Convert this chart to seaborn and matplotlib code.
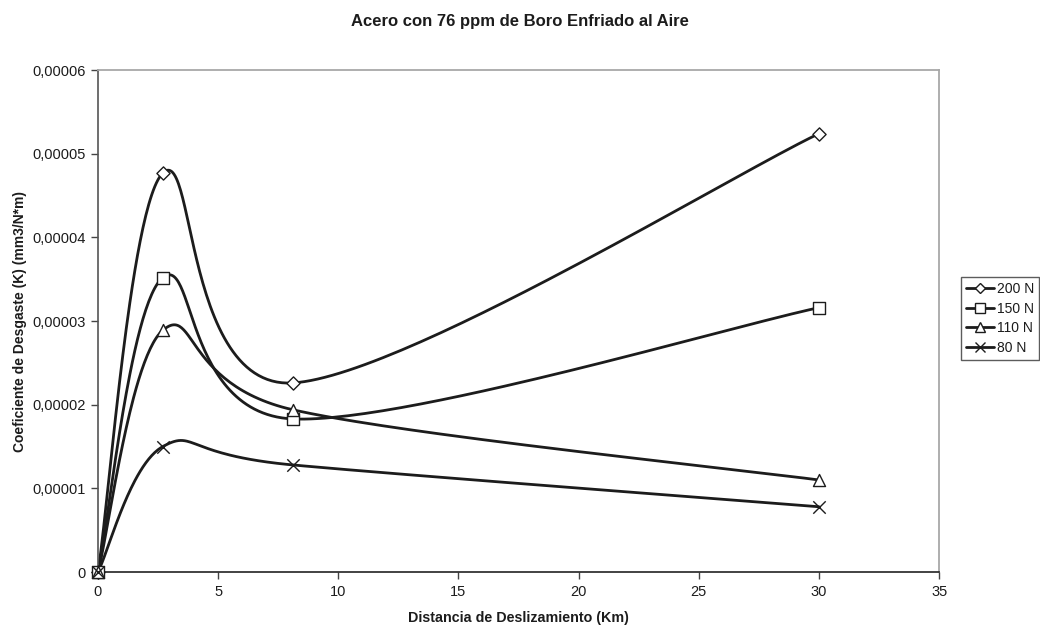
import numpy as np
import pandas as pd
import matplotlib
matplotlib.use("Agg")
import matplotlib.pyplot as plt
from matplotlib.lines import Line2D
from matplotlib.ticker import FuncFormatter, MultipleLocator
import seaborn as sns

# Sliding distance (km) and wear coefficient K (mm3/N*m) per applied load
distancia = [0.0, 2.7, 8.1, 30.0]
cargas = ["200 N", "150 N", "110 N", "80 N"]
k_200 = [0.0, 4.77e-5, 2.26e-5, 5.24e-5]
k_150 = [0.0, 3.52e-5, 1.83e-5, 3.16e-5]
k_110 = [0.0, 2.89e-5, 1.94e-5, 1.10e-5]
k_80 = [0.0, 1.50e-5, 1.28e-5, 0.78e-5]
marcadores = ["D", "s", "^", "x"]

series = [k_200, k_150, k_110, k_80]

sns.set_theme(style="white")
plt.rcParams["font.family"] = ["Liberation Sans", "DejaVu Sans"]

fig = plt.figure(figsize=(10.4, 6.27), dpi=100)
ax = fig.add_axes([0.0942, 0.0877, 0.8088, 0.8006])

XMAX, YMAX = 35.0, 6e-5
W_PX, H_PX = 841.0, 502.0
ink = "#1c1c1c"


def suavizar(xs, ys, n=60):
    """Cardinal (Catmull-Rom style) Bezier smoothing in screen space."""
    p = np.column_stack([np.asarray(xs) / XMAX * W_PX, np.asarray(ys) / YMAX * H_PX])
    pts = np.vstack([p[0], p, p[-1]])
    out = [p[0]]
    t = np.linspace(0, 1, n)[1:, None]
    for i in range(1, len(pts) - 2):
        p0, p1, p2, p3 = pts[i - 1], pts[i], pts[i + 1], pts[i + 2]
        c1 = p1 + (p2 - p0) / 6.0
        c2 = p2 - (p3 - p1) / 6.0
        seg = ((1 - t) ** 3) * p1 + 3 * ((1 - t) ** 2) * t * c1 \
            + 3 * (1 - t) * t ** 2 * c2 + t ** 3 * p2
        out.extend(seg)
    out = np.array(out)
    return out[:, 0] / W_PX * XMAX, out[:, 1] / H_PX * YMAX


for nombre, vals, m in zip(cargas, series, marcadores):
    sx, sy = suavizar(distancia, vals)
    curva = pd.DataFrame({"x": sx, "y": sy})
    sns.lineplot(data=curva, x="x", y="y", sort=False, estimator=None,
                 color=ink, linewidth=2.0, ax=ax, zorder=2)
    puntos = pd.DataFrame({"x": distancia, "y": vals})
    if m == "x":
        sns.scatterplot(data=puntos, x="x", y="y", marker=m, s=80, color=ink,
                        linewidth=1.0, ax=ax, zorder=3, clip_on=False)
    else:
        sns.scatterplot(data=puntos, x="x", y="y", marker=m,
                        s=75 if m != "D" else 45, facecolor="white",
                        edgecolor=ink, linewidth=1.0, ax=ax, zorder=3,
                        clip_on=False)

ax.set_xlim(0, XMAX)
ax.set_ylim(0, YMAX)
ax.xaxis.set_major_locator(MultipleLocator(5))
ax.yaxis.set_major_locator(MultipleLocator(1e-5))
ax.yaxis.set_major_formatter(FuncFormatter(
    lambda v, _: "0" if abs(v) < 1e-12 else f"{v:.5f}".replace(".", ",")))

for lado in ["top", "right"]:
    ax.spines[lado].set_color("#a8a8a8")
    ax.spines[lado].set_linewidth(1.3)
ax.spines["left"].set_color("#555555")
ax.spines["bottom"].set_color("#222222")
for lado in ["left", "bottom"]:
    ax.spines[lado].set_linewidth(1.2)

ax.tick_params(axis="both", which="major", direction="out", length=5, width=1,
               color="#444444", labelsize=10.5, labelcolor=ink, pad=4,
               left=True, bottom=True)

ax.set_xlabel("Distancia de Deslizamiento (Km)", fontsize=10.3, fontweight="bold",
              color=ink, labelpad=9)
ax.set_ylabel("Coeficiente de Desgaste (K) (mm3/N*m)", fontsize=10,
              fontweight="bold", color=ink, labelpad=4)
fig.text(0.5, 0.966, "Acero con 76 ppm de Boro Enfriado al Aire", ha="center",
         va="center", fontsize=12, fontweight="bold", color=ink)

handles = []
for nombre, m in zip(cargas, marcadores):
    if m == "x":
        h = Line2D([], [], color=ink, linewidth=2.0, marker=m, markersize=7,
                   markeredgewidth=1.0)
    else:
        h = Line2D([], [], color=ink, linewidth=2.0, marker=m,
                   markersize=5 if m == "D" else 7, markerfacecolor="white",
                   markeredgecolor=ink, markeredgewidth=1.0)
    handles.append(h)

leg = fig.legend(handles, cargas, loc="upper left", bbox_to_anchor=(0.924, 0.558),
                 fontsize=10, frameon=True, fancybox=False, handlelength=2.0,
                 handletextpad=0.25, borderpad=0.35, labelspacing=0.4,
                 borderaxespad=0)
leg.get_frame().set_edgecolor("#333333")
leg.get_frame().set_linewidth(1.0)
for t in leg.get_texts():
    t.set_color(ink)

fig.savefig("out.png", dpi=100, facecolor="white")
